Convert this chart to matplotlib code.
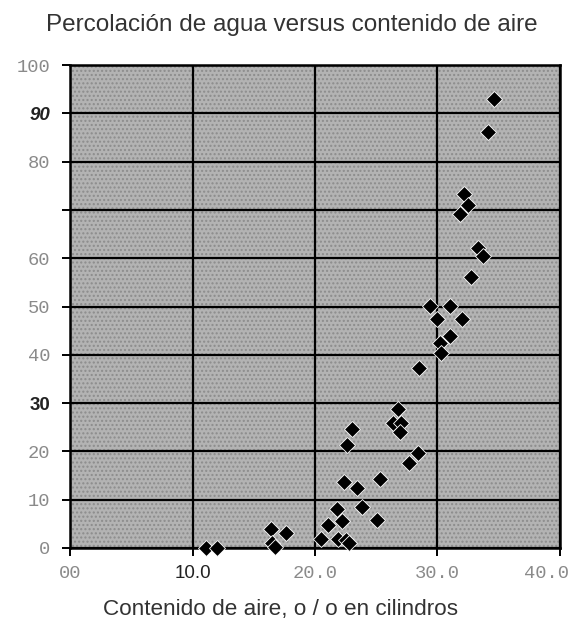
import matplotlib.pyplot as plt
import matplotlib.transforms as mtransforms
import numpy as np

# air content (%) vs water percolation
air = [34.6, 34.1, 32.2, 32.5, 31.8, 33.3, 33.7, 32.7, 29.4, 31.0,
       30.0, 32.0, 31.0, 30.2, 30.3, 28.5, 26.8, 26.4, 27.0, 26.9,
       23.0, 22.6, 28.4, 27.7, 22.4, 23.4, 25.3, 23.8, 21.8, 25.1,
       22.2, 21.1, 17.6, 16.4, 16.5, 16.7, 20.5, 21.9, 22.5, 22.8,
       11.1, 12.0]
perc = [93.0, 86.1, 73.3, 71.0, 69.2, 62.1, 60.5, 56.1, 50.2, 50.2,
        47.4, 47.4, 43.9, 42.4, 40.3, 37.3, 28.8, 25.8, 25.9, 24.1,
        24.6, 21.3, 19.6, 17.5, 13.6, 12.4, 14.2, 8.4, 8.0, 5.8,
        5.6, 4.7, 3.1, 3.9, 1.0, 0.2, 1.8, 1.8, 1.7, 1.0,
        0.0, 0.0]

x_ticks = [0, 10, 20, 30, 40]
x_labels = ["00", "10.0", "20.0", "30.0", "40.0"]
y_ticks = list(range(0, 101, 10))
y_labels = ["0", "10", "20", "30", "40", "50", "60", "", "80", "90", "100"]

fig = plt.figure(figsize=(5.73, 6.24), dpi=100)
ax = fig.add_axes([0.1222, 0.1218, 0.8551, 0.7740])

# grey speckled paper look
ax.set_facecolor("#b3b3b3")
ax.add_patch(plt.Rectangle((0, 0), 1, 1, transform=ax.transAxes,
                           facecolor="none", edgecolor="#8c8c8c",
                           hatch="....", lw=0, zorder=0))

ax.set_xlim(0, 40)
ax.set_ylim(0, 100)
ax.set_axisbelow(True)
ax.grid(True, color="black", lw=1.6)

ax.plot(air, perc, "D", color="black", ms=8.5, mec="white", mew=0.6,
        clip_on=False, zorder=5)

for s in ax.spines.values():
    s.set_color("black")
    s.set_linewidth(1.8)

ax.set_xticks(x_ticks)
ax.set_xticklabels(x_labels)
ax.set_yticks(y_ticks)
ax.set_yticklabels(y_labels)
ax.tick_params(axis="both", length=6, width=1.4, color="black", pad=8)
ax.tick_params(axis="x", pad=6)

for lab in ax.get_xticklabels() + ax.get_yticklabels():
    lab.set_fontfamily("Liberation Mono")
    lab.set_fontsize(13.5)
    lab.set_color("#8a8a8a")

# a few labels were retyped in a different font
for lab in ax.get_yticklabels():
    if lab.get_text() == "90":
        lab.set_fontfamily("Liberation Sans")
        lab.set_fontweight("bold")
        lab.set_fontstyle("italic")
        lab.set_color("#222222")
    if lab.get_text() == "30":
        lab.set_fontfamily("Liberation Sans")
        lab.set_fontweight("bold")
        lab.set_color("#222222")
for lab in ax.get_xticklabels():
    if lab.get_text() == "10.0":
        lab.set_fontfamily("Liberation Sans")
        lab.set_color("#222222")
    if lab.get_text() == "40.0":
        # the last label sits a bit left of its tick in the scan
        lab.set_transform(lab.get_transform() + mtransforms.ScaledTranslation(
            -10 / 72, 0, fig.dpi_scale_trans))

fig.text(0.51, 0.96, "Percolación de agua versus contenido de aire",
         ha="center", va="center", fontsize=17.5, color="#333333",
         family="Liberation Sans")
fig.text(0.489, 0.023, "Contenido de aire, o / o en cilindros",
         ha="center", va="center", fontsize=16.2, color="#333333",
         family="Liberation Sans")

fig.savefig("out.png", dpi=100, facecolor="white")
